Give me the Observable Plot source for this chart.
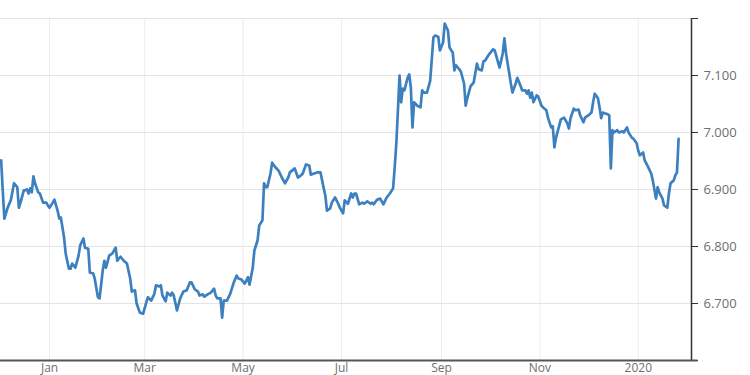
<!DOCTYPE html>
<html><head><meta charset="utf-8">
<script src="https://cdn.jsdelivr.net/npm/d3@7"></script>
<script src="https://cdn.jsdelivr.net/npm/@observablehq/plot@0.6"></script>
<style>
html,body{margin:0;padding:0;background:#fff;overflow:hidden}
#chart svg text{fill:#6e6e6e}
#chart svg g[aria-label^="x-axis"] text{font-size:12px}
</style>
</head><body><div id="chart"></div>
<script>
// days since 2018-12-01 (UTC)
const days = [
1,2,3,5,7,9,11,12,13,15,
17,18,19,20,21,22,24,25,27,29,
30,31,33,34,36,37,38,40,41,43,
44,45,47,49,50,52,53,55,56,58,
59,61,62,64,65,66,68,70,72,73,
75,77,79,81,82,84,85,87,89,91,
92,94,96,97,99,100,101,103,104,106,
107,108,110,112,114,116,118,119,121,123,
124,126,127,129,131,133,134,135,137,138,
139,141,143,145,147,148,150,152,154,155,
157,158,160,161,163,164,165,166,168,169,
171,173,175,177,179,180,183,185,187,188,
190,192,193,195,197,199,201,202,203,205,
206,208,210,211,213,214,216,218,219,220,
221,223,225,226,228,230,231,232,234,236,
238,240,242,244,245,246,247,248,249,250,
251,253,254,255,256,257,259,261,262,263,
265,267,269,270,272,273,275,276,278,279,
281,282,283,285,286,288,289,290,292,294,
296,297,299,300,301,303,304,306,307,310,
312,313,314,316,317,318,320,321,323,324,
326,327,328,329,330,331,333,334,336,337,
339,340,342,343,344,345,347,348,350,352,
353,354,356,357,359,360,362,363,365,367,
368,369,371,372,373,374,376,377,378,379,
380,381,383,384,386,387,389,390,392,393,
395,396,397,399,400,402,404,405,407,408,
409,411,412,414,415,416,418,419,420,421
];
const values = [
6.951,6.898,6.849,6.868,6.881,6.911,6.904,6.868,6.877,6.898,
6.900,6.893,6.902,6.895,6.923,6.911,6.895,6.893,6.877,6.877,
6.872,6.868,6.877,6.882,6.863,6.849,6.851,6.816,6.788,6.761,
6.761,6.770,6.763,6.784,6.802,6.814,6.798,6.796,6.754,6.753,
6.744,6.711,6.709,6.758,6.775,6.763,6.784,6.788,6.798,6.775,
6.782,6.775,6.770,6.744,6.721,6.723,6.700,6.684,6.682,6.702,
6.711,6.705,6.717,6.732,6.730,6.732,6.714,6.704,6.719,6.714,
6.719,6.714,6.688,6.709,6.721,6.723,6.737,6.737,6.725,6.721,
6.714,6.716,6.712,6.716,6.719,6.726,6.714,6.709,6.709,6.675,
6.705,6.705,6.717,6.735,6.749,6.744,6.742,6.735,6.746,6.733,
6.763,6.793,6.811,6.837,6.846,6.911,6.904,6.904,6.928,6.947,
6.939,6.933,6.921,6.911,6.921,6.930,6.937,6.921,6.925,6.928,
6.944,6.942,6.926,6.928,6.930,6.930,6.902,6.889,6.863,6.867,
6.877,6.886,6.875,6.868,6.858,6.881,6.875,6.893,6.886,6.893,
6.893,6.874,6.877,6.875,6.879,6.875,6.877,6.874,6.882,6.884,
6.874,6.886,6.893,6.902,6.939,6.981,7.039,7.100,7.053,7.077,
7.074,7.096,7.102,7.079,7.009,7.053,7.047,7.044,7.074,7.070,
7.070,7.091,7.167,7.170,7.168,7.144,7.158,7.191,7.179,7.149,
7.140,7.109,7.118,7.111,7.107,7.086,7.047,7.060,7.081,7.088,
7.121,7.111,7.109,7.125,7.126,7.135,7.139,7.146,7.144,7.114,
7.139,7.165,7.139,7.104,7.086,7.070,7.086,7.096,7.082,7.074,
7.074,7.068,7.074,7.061,7.070,7.053,7.065,7.063,7.047,7.044,
7.039,7.026,7.009,7.011,6.974,6.991,7.012,7.023,7.026,7.016,
7.007,7.025,7.042,7.039,7.040,7.030,7.018,7.026,7.030,7.035,
7.053,7.068,7.060,7.044,7.025,7.035,7.033,7.032,7.030,6.937,
7.004,7.000,7.004,7.000,7.002,7.000,7.009,7.000,6.991,6.989,
6.981,6.968,6.960,6.965,6.951,6.940,6.928,6.916,6.884,6.904,
6.895,6.884,6.872,6.868,6.893,6.911,6.916,6.925,6.930,6.989
];
const xTickDates = ["2019-01-01","2019-03-01","2019-05-01","2019-07-01","2019-09-01","2019-11-01","2020-01-01"];
const xTickLabels = ["Jan","Mar","May","Jul","Sep","Nov","2020"];
const yTicks = [6.6,6.7,6.8,6.9,7.0,7.1,7.2];
const yTickLabels = ["","6.700","6.800","6.900","7.000","7.100",""];

const DAY = 864e5;
const base = Date.UTC(2018, 11, 1);
const data = days.map((d, i) => ({date: new Date(base + d * DAY), value: values[i]}));
const tickDates = xTickDates.map(s => new Date(s + "T00:00:00Z"));
const xLabelMap = new Map(tickDates.map((d, i) => [+d, xTickLabels[i]]));
const yLabelMap = new Map(yTicks.map((v, i) => [v.toFixed(1), yTickLabels[i]]));

const x0 = new Date(base + 0.6 * DAY);
const x1 = new Date(base + 429 * DAY);
const xExt = new Date(base + 433 * DAY);

const chart = Plot.plot({
  width: 750,
  height: 375,
  marginTop: 18,
  marginBottom: 15,
  marginLeft: 0,
  marginRight: 59,
  style: {fontFamily: "'Open Sans', sans-serif", fontSize: "13px", color: "#333", background: "#fff"},
  x: {type: "utc", domain: [x0, x1], ticks: tickDates, tickFormat: d => xLabelMap.get(+d) ?? "", tickSize: 0, tickPadding: 3, label: null},
  y: {domain: [6.6, 7.2], axis: "right", ticks: yTicks, tickFormat: v => yLabelMap.get((+v).toFixed(1)) ?? "", tickSize: 6, tickPadding: 6, label: null},
  marks: [
    Plot.ruleX(tickDates, {stroke: "#ededed", strokeWidth: 1}),
    Plot.ruleY(yTicks.slice(1), {stroke: "#e4e4e4", strokeWidth: 1}),
    Plot.line(data, {x: "date", y: "value", stroke: "#3c80c0", strokeWidth: 2.7, strokeLinejoin: "round"}),
    Plot.ruleX([x1], {stroke: "#333", strokeWidth: 1.5}),
    Plot.ruleY([6.6], {x1: () => x0, x2: () => xExt, stroke: "#555", strokeWidth: 2})
  ]
});
document.getElementById("chart").appendChild(chart);
</script>
</body></html>
